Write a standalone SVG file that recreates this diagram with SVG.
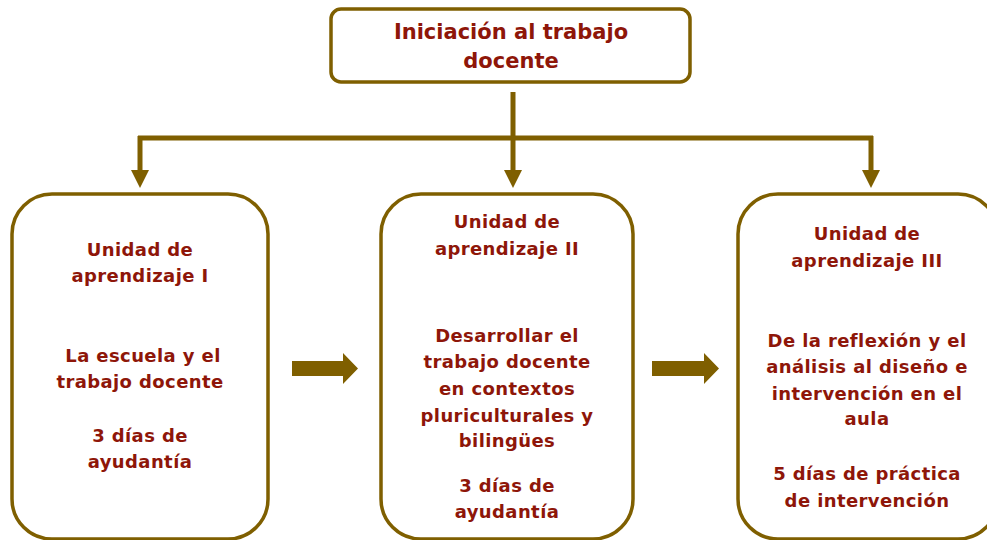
<svg xmlns="http://www.w3.org/2000/svg" width="987" height="540" viewBox="0 0 987 540">
<style>
.box{fill:#fff;stroke:#7F5F00;stroke-width:3.5}
.t{font-family:"DejaVu Sans","Liberation Sans",sans-serif;font-weight:bold;fill:#8E1609;text-anchor:middle;font-size:18px;letter-spacing:0.4px}
.tt{font-size:21px;letter-spacing:0}
.ln{stroke:#7F5F00;stroke-width:5;fill:none}
.ah{fill:#7F5F00}
</style>
<rect width="987" height="540" fill="#fff"/>
<g id="connectors">
<line class="ln" x1="513" y1="92" x2="513" y2="172"/>
<line class="ln" x1="138" y1="138" x2="873" y2="138"/>
<line class="ln" x1="140" y1="136" x2="140" y2="172"/>
<line class="ln" x1="871" y1="136" x2="871" y2="172"/>
<polygon class="ah" points="131,170 149,170 140,188"/>
<polygon class="ah" points="504,170 522,170 513,188"/>
<polygon class="ah" points="862,170 880,170 871,188"/>
<polygon class="ah" points="292,361 343,361 343,353 358,368.5 343,384 343,376 292,376"/>
<polygon class="ah" points="652,361 704,361 704,353 719,368.5 704,384 704,376 652,376"/>
</g>
<g id="top">
<rect class="box" x="331" y="9" width="359" height="73" rx="10"/>
<text class="t tt" x="511" y="39">Iniciación al trabajo</text>
<text class="t tt" x="511" y="68">docente</text>
</g>
<g id="unit1">
<rect class="box" x="12" y="194" width="256" height="345" rx="40"/>
<text class="t" x="140" y="256">Unidad de</text>
<text class="t" x="140" y="282">aprendizaje I</text>
<text class="t" x="143" y="362">La escuela y el</text>
<text class="t" x="140" y="388">trabajo docente</text>
<text class="t" x="140" y="442">3 días de</text>
<text class="t" x="140" y="468">ayudantía</text>
</g>
<g id="unit2">
<rect class="box" x="381" y="194" width="252" height="345" rx="40"/>
<text class="t" x="507" y="228">Unidad de</text>
<text class="t" x="507" y="255">aprendizaje II</text>
<text class="t" x="507" y="342">Desarrollar el</text>
<text class="t" x="507" y="368">trabajo docente</text>
<text class="t" x="507" y="395">en contextos</text>
<text class="t" x="507" y="422">pluriculturales y</text>
<text class="t" x="507" y="447">bilingües</text>
<text class="t" x="507" y="492">3 días de</text>
<text class="t" x="507" y="518">ayudantía</text>
</g>
<g id="unit3">
<rect class="box" x="738" y="194" width="260" height="345" rx="40"/>
<text class="t" x="867" y="240">Unidad de</text>
<text class="t" x="867" y="267">aprendizaje III</text>
<text class="t" x="867" y="347">De la reflexión y el</text>
<text class="t" x="867" y="373">análisis al diseño e</text>
<text class="t" x="867" y="400">intervención en el</text>
<text class="t" x="867" y="425">aula</text>
<text class="t" x="867" y="480">5 días de práctica</text>
<text class="t" x="867" y="507">de intervención</text>
</g>
</svg>
